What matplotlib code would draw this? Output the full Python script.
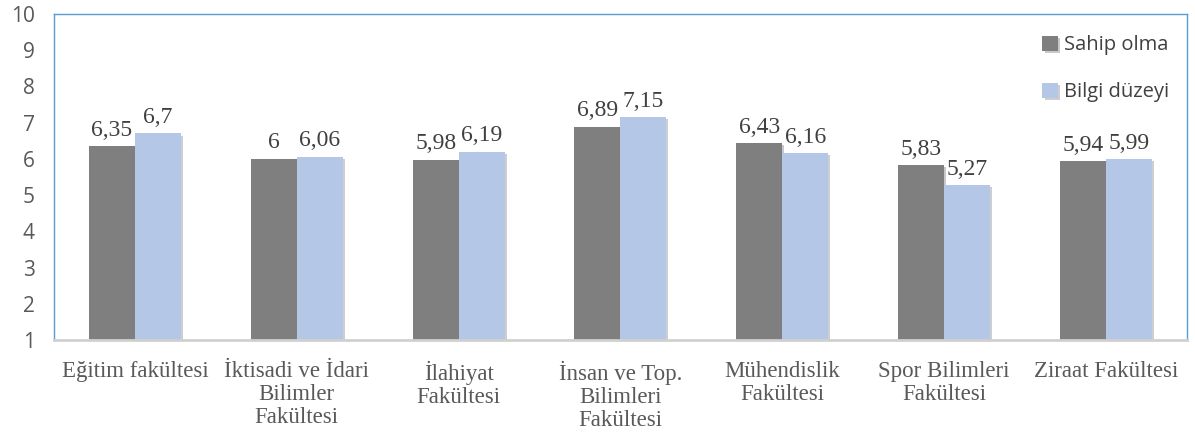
import numpy as np
import matplotlib.pyplot as plt
import matplotlib.patheffects as pe

categories = ["Eğitim fakültesi", "İktisadi ve İdari\nBilimler\nFakültesi",
              "İlahiyat\nFakültesi", "İnsan ve Top.\nBilimleri\nFakültesi",
              "Mühendislik\nFakültesi", "Spor Bilimleri\nFakültesi",
              "Ziraat Fakültesi"]
sahip_olma = [6.35, 6.0, 5.98, 6.89, 6.43, 5.83, 5.94]
bilgi_duzeyi = [6.7, 6.06, 6.19, 7.15, 6.16, 5.27, 5.99]
series_names = ["Sahip olma", "Bilgi düzeyi"]
y_ticks = list(range(1, 11))


def fmt(v):
    s = ("%.2f" % v).rstrip("0").rstrip(".")
    return s.replace(".", ",")


fig = plt.figure(figsize=(11.95, 4.36), dpi=100)
ax = fig.add_axes([0.0452, 0.2202, 0.948, 0.748])

x = np.arange(len(categories))
w = 0.284
shadow = [pe.SimplePatchShadow(offset=(1.5, -1.5), alpha=0.25), pe.Normal()]
b1 = ax.bar(x - w / 2, np.array(sahip_olma) - 1, w, bottom=1, color="#7f7f7f",
            label=series_names[0], path_effects=shadow)
b2 = ax.bar(x + w / 2, np.array(bilgi_duzeyi) - 1, w, bottom=1, color="#b4c7e7",
            label=series_names[1], path_effects=shadow)

for bars, vals in ((b1, sahip_olma), (b2, bilgi_duzeyi)):
    for bar, v in zip(bars, vals):
        ax.text(bar.get_x() + bar.get_width() / 2, v + 0.15, fmt(v),
                ha="center", va="bottom", fontsize=17, color="#404040",
                family="Liberation Serif")

ax.set_xlim(-0.5, len(categories) - 0.5)
ax.set_ylim(1, 10)
ax.set_yticks(y_ticks)
ax.set_yticklabels([str(t) for t in y_ticks], fontsize=15, color="#595959",
                   family="Open Sans")
ax.set_xticks(x)
ax.set_xticklabels(categories, fontsize=16.5, color="#595959",
                   family="Liberation Serif", linespacing=1.12, va="top")
ax.tick_params(axis="x", length=0, pad=15)
ax.tick_params(axis="y", length=0, pad=14)

for side in ("left", "top", "right"):
    ax.spines[side].set_color("#5b9bd5")
    ax.spines[side].set_linewidth(1.0)
ax.spines["bottom"].set_color("#d0d0d0")
ax.spines["bottom"].set_linewidth(2)

leg = ax.legend(loc="upper right", bbox_to_anchor=(1.0, 0.99), frameon=False,
                prop={"family": "Open Sans", "size": 14.5}, labelspacing=1.35,
                handlelength=0.75, handleheight=0.75, handletextpad=0.3)
for t in leg.get_texts():
    t.set_color("#404040")

fig.savefig("out.png", dpi=100)
